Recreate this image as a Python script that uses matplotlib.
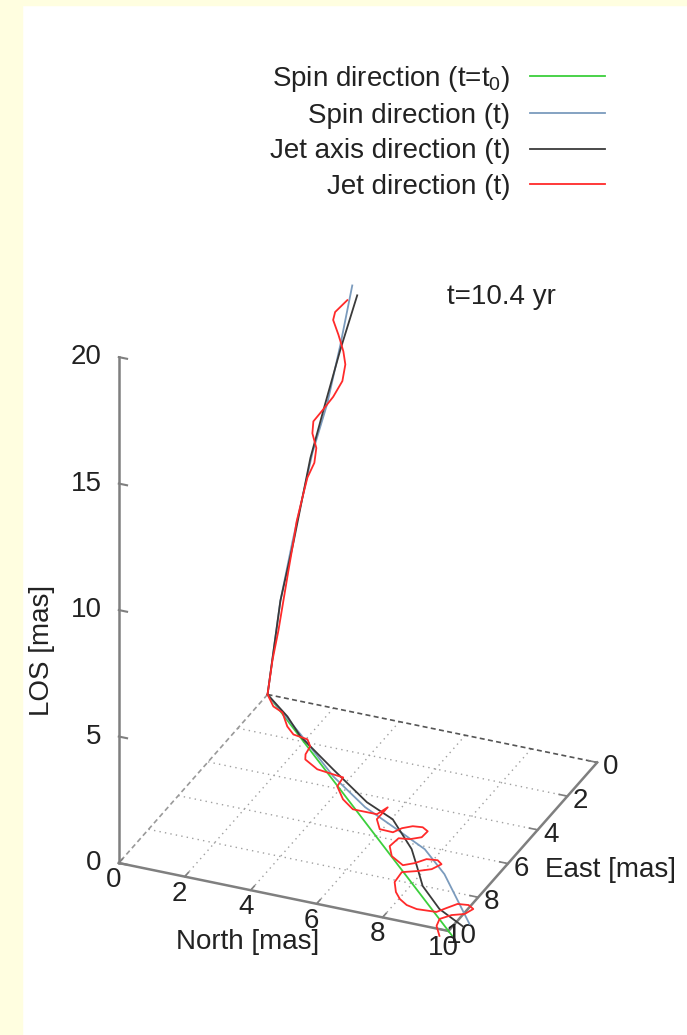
import numpy as np
import matplotlib
matplotlib.use('Agg')
import matplotlib.pyplot as plt
from matplotlib.patches import Rectangle
from matplotlib.transforms import offset_copy
from mpl_toolkits.mplot3d import proj3d

plt.rcParams['font.family'] = ['Liberation Sans', 'DejaVu Sans']
plt.rcParams['mathtext.default'] = 'regular'
plt.rcParams['lines.solid_joinstyle'] = 'round'

# ---- data: North / East / LOS in mas ----
# rising branch lies in the East=0 plane (North, LOS), floor branch at LOS=0 (North, East)

spin0_floor_n = [0.0, 10.2]
spin0_floor_e = [0.0, 10.2]

spin_up_n = [2.57, 2.21, 1.81, 1.36, 0.755, 0.39, 0.0]
spin_up_z = [16.86, 14.42, 11.98, 9.91, 6.24, 3.81, 0.0]
spin_floor_n = [0.0, 1.75, 3.54, 5.06, 6.37, 7.54, 8.61, 9.67, 10.38]
spin_floor_e = [0.0, 1.66, 3.43, 4.65, 5.43, 6.14, 7.19, 8.53, 9.43]

axis_up_n = [2.72, 2.21, 1.75, 1.30, 0.79, 0.39, 0.0]
axis_up_z = [16.51, 14.23, 11.97, 9.70, 6.25, 3.81, 0.0]
axis_floor_n = [0.0, 1.01, 1.79, 3.38, 4.99, 6.04, 7.20, 7.72, 8.32, 9.27, 10.25]
axis_floor_e = [0.0, 0.90, 1.76, 3.08, 4.38, 4.97, 6.27, 7.07, 8.01, 8.99, 9.61]

jet_up_n = [2.42, 2.05, 1.99, 2.15, 2.21, 2.30, 2.36, 2.27, 1.99, 1.66, 1.39, 1.36,
            1.48, 1.42, 1.21, 1.06, 0.88, 0.76, 0.63, 0.48, 0.33, 0.15, 0.0]
jet_up_z = [16.24, 15.67, 15.34, 14.80, 14.56, 14.18, 13.68, 13.00, 12.30, 11.67, 11.17, 10.69,
            10.14, 9.54, 8.90, 8.08, 7.06, 6.05, 5.04, 3.83, 2.62, 1.40, 0.0]
jet_floor_n = [0.0, 0.42, 0.79, 1.23, 1.57, 2.04, 2.27, 2.33, 2.44, 2.97, 3.49, 3.82, 3.87, 4.31,
               4.79, 5.22, 5.52, 5.64, 5.63, 5.93, 6.34, 6.48, 6.71, 6.99, 7.21, 7.19, 6.93,
               6.62, 6.57, 6.85, 7.34, 7.60, 7.81, 8.12, 8.31, 8.17, 7.85, 7.47, 7.51, 7.77,
               8.03, 8.34, 8.69, 9.26, 9.43, 9.62, 9.93, 10.14, 10.03, 9.72, 9.50, 9.58, 9.88]
jet_floor_e = [0.0, 0.54, 0.75, 1.40, 1.74, 1.84, 2.16, 2.61, 2.87, 3.24, 3.33, 3.38, 3.89, 4.48,
               4.88, 4.88, 4.88, 4.42, 5.13, 5.60, 5.62, 5.32, 5.11, 5.06, 5.21, 5.57, 5.79,
               5.86, 6.35, 6.83, 7.17, 6.94, 6.62, 6.56, 6.72, 7.07, 7.31, 7.53, 8.10, 8.59,
               8.90, 9.13, 9.23, 9.17, 8.87, 8.55, 8.49, 8.64, 8.98, 9.17, 9.49, 9.87, 10.34]

north_ticks = [0, 2, 4, 6, 8, 10]
east_ticks = [0, 2, 4, 6, 8, 10]
los_ticks = [0, 5, 10, 15, 20]
n_lim = (0, 10)
e_lim = (0, 10)
z_lim = (0, 20)

labels = ['Spin direction (t=t$_0$)', 'Spin direction (t)', 'Jet axis direction (t)', 'Jet direction (t)']
colors = ['#3ccf3c', '#7b9bbd', '#3a3a3a', '#ff2a2a']

W, H = 687, 1035
FS = 20
TXT = '#222222'

fig = plt.figure(figsize=(W / 100, H / 100), dpi=100)
fig.patches.append(Rectangle((0, 0), 22 / W, 1, transform=fig.transFigure, color='#fffee0', zorder=0))
fig.patches.append(Rectangle((0, 1 - 5 / H), 1, 5 / H, transform=fig.transFigure, color='#fffee0', zorder=0))

ax = fig.add_axes([0.05, 0.05, 0.9, 0.9], projection='3d', computed_zorder=False)
ax.set_proj_type('ortho')
ax.view_init(elev=28.9, azim=-66.9)
ax.set_xlim(*n_lim)
ax.set_ylim(e_lim[1], e_lim[0])   # East runs towards the viewer
ax.set_zlim(*z_lim)
ax.set_box_aspect((359.7, 380.5, 580))
ax.set_axis_off()
ax.patch.set_facecolor('none')

# floor grid
for e in east_ticks[1:-1]:
    ax.plot(n_lim, [e, e], 0, ls=(0, (1, 3)), color='#a0a0a0', lw=1, zorder=1)
for n in north_ticks[1:-1]:
    ax.plot([n, n], e_lim, 0, ls=(0, (1, 3)), color='#a0a0a0', lw=1, zorder=1)

# floor border: back edges dashed, front edges solid
ax.plot(n_lim, [e_lim[0]] * 2, 0, ls=(0, (3, 2)), color='#555555', lw=1.2, zorder=2)
ax.plot([n_lim[0]] * 2, e_lim, 0, ls=(0, (3, 2)), color='#999999', lw=1.2, zorder=2)
ax.plot(n_lim, [e_lim[1]] * 2, 0, color='#7f7f7f', lw=1.8, zorder=2)
ax.plot([n_lim[1]] * 2, e_lim, 0, color='#7f7f7f', lw=1.8, zorder=2)

# LOS axis at the left corner, tick marks
ax.plot([n_lim[0]] * 2, [e_lim[1]] * 2, z_lim, color='#7f7f7f', lw=1.8, zorder=2)
for z in los_ticks:
    ax.plot([0, 0.25], [e_lim[1]] * 2, [z, z], color='#7f7f7f', lw=1.5, zorder=2)
for n in north_ticks:
    ax.plot([n, n], [e_lim[1], e_lim[1] - 0.25], 0, color='#7f7f7f', lw=1.2, zorder=2)
for e in east_ticks:
    ax.plot([n_lim[1], n_lim[1] - 0.25], [e, e], 0, color='#7f7f7f', lw=1.2, zorder=2)

# curves
h0, = ax.plot(spin0_floor_n, spin0_floor_e, 0, color=colors[0], lw=1.3, zorder=3)
ax.plot(spin_up_n, spin_up_z, zs=0, zdir='y', color=colors[1], lw=1.3, zorder=4)
h1, = ax.plot(spin_floor_n, spin_floor_e, 0, color=colors[1], lw=1.3, zorder=4)
ax.plot(axis_up_n, axis_up_z, zs=0, zdir='y', color=colors[2], lw=1.3, zorder=5)
h2, = ax.plot(axis_floor_n, axis_floor_e, 0, color=colors[2], lw=1.3, zorder=5)
ax.plot(jet_up_n, jet_up_z, zs=0, zdir='y', color=colors[3], lw=1.3, zorder=6)
h3, = ax.plot(jet_floor_n, jet_floor_e, 0, color=colors[3], lw=1.3, zorder=6)

ax.legend([h0, h1, h2, h3], labels, loc='upper right', markerfirst=False, frameon=False,
          bbox_to_anchor=(605 / W, 1 - 64 / H), bbox_transform=fig.transFigure,
          borderpad=0, borderaxespad=0, handlelength=2.7, handletextpad=0.7,
          labelspacing=0.33, fontsize=FS, labelcolor=TXT)

fig.text(447 / W, 1 - 297 / H, 't=10.4 yr', ha='left', va='center', fontsize=FS, color=TXT)
fig.text(42 / W, 1 - 650 / H, 'LOS [mas]', rotation=90, ha='center', va='center', fontsize=FS, color=TXT)
fig.text(248 / W, 1 - 942 / H, 'North [mas]', ha='center', va='center', fontsize=FS, color=TXT)
fig.text(545 / W, 1 - 870 / H, 'East [mas]', ha='left', va='center', fontsize=FS, color=TXT)

# place the 3d box so its corners land where the original drawing has them
fig.canvas.draw()
corners = np.array([[0, 0, 0], [10, 0, 0], [10, 10, 0], [0, 10, 20]], dtype=float)
corner_px = np.array([[267, 695], [597, 765], [447, 930], [121, 355]], dtype=float)
px, py, _ = proj3d.proj_transform(corners[:, 0], corners[:, 1], corners[:, 2], ax.M)
m = ax.transData.transform(np.column_stack([px, py]))
t_pts = np.column_stack([corner_px[:, 0], H - corner_px[:, 1]])
mc, tc = m.mean(0), t_pts.mean(0)
s = ((m - mc) * (t_pts - tc)).sum() / ((m - mc) ** 2).sum()
shift = tc - s * mc
bb = ax.get_position().transformed(fig.transFigure)
L = bb.width * s
cx, cy = s * np.array([bb.x0 + bb.width / 2, bb.y0 + bb.height / 2]) + shift
ax.set_position([(cx - L / 2) / W, (cy - L / 2) / H, L / W, L / H])


def tick_label(n, e, z, text, dx, dy, ha):
    # project the 3d anchor once, then keep the label as plain 2d text
    x, y, _ = proj3d.proj_transform(np.array([n]), np.array([e]), np.array([z]), ax.M)
    ax.text2D(x[0], y[0], text, ha=ha, va='center', fontsize=FS, color=TXT,
              transform=offset_copy(ax.transData, fig=fig, x=dx, y=dy, units='dots'))


for z in los_ticks:
    tick_label(n_lim[0], e_lim[1], z, str(z), -17, 0, 'right')
for n in north_ticks:
    tick_label(n, e_lim[1], 0, str(n), -5, -17, 'center')
for e in east_ticks:
    tick_label(n_lim[1], e, 0, str(e), 13, -5, 'center')

fig.savefig('out.png', dpi=100)
